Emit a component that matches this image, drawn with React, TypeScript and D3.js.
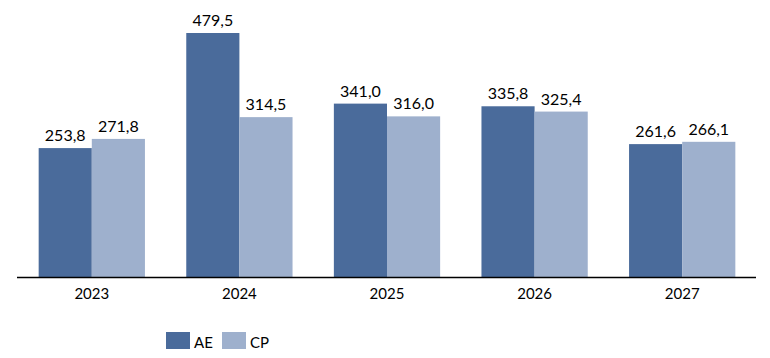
import React from 'react';
import * as d3 from 'd3';

const years = ['2023', '2024', '2025', '2026', '2027'];
const seriesNames = ['AE', 'CP'];
const aeValues = [253.8, 479.5, 341.0, 335.8, 261.6];
const cpValues = [271.8, 314.5, 316.0, 325.4, 266.1];
const colors = ['#4a6b9b', '#9eb0cd'];

const W = 770;
const H = 358;
const baseY = 277.5;
const fmt = (v: number) => d3.format('.1f')(v).replace('.', ',');

const App = () => {
  const x = d3.scaleBand().domain(years).range([18, 756]).paddingInner(0.28).paddingOuter(0.14);
  const sub = d3.scaleBand().domain(seriesNames).range([0, x.bandwidth()]);
  const y = d3.scaleLinear().domain([0, 479.5]).range([baseY, 33]);
  const series = [aeValues, cpValues];

  return (
    <svg width={W} height={H} style={{ position: 'absolute', left: 0, top: 0, fontFamily: 'Lato, sans-serif' }}>
      <rect width={W} height={H} fill="#fff" />
      {series.map((vals, si) =>
        vals.map((v, i) => {
          const bx = (x(years[i]) as number) + (sub(seriesNames[si]) as number);
          return (
            <g key={`${si}-${i}`}>
              <rect x={bx} y={y(v)} width={sub.bandwidth()} height={baseY - y(v)} fill={colors[si]} />
              <text x={bx + sub.bandwidth() / 2} y={y(v) - 7} textAnchor="middle" fontSize={16} fill="#000">
                {fmt(v)}
              </text>
            </g>
          );
        })
      )}
      <line x1={17} x2={756} y1={baseY} y2={baseY} stroke="#000" strokeWidth={1.3} />
      {years.map((yr) => (
        <text key={yr} x={(x(yr) as number) + x.bandwidth() / 2} y={299} textAnchor="middle" fontSize={15} fill="#000">
          {yr}
        </text>
      ))}
      {seriesNames.map((s, i) => (
        <g key={s} transform={`translate(${166 + i * 56},332)`}>
          <rect width={24} height={17} fill={colors[i]} />
          <text x={28} y={16} fontSize={15} fill="#000">{s}</text>
        </g>
      ))}
    </svg>
  );
};

export default App;
